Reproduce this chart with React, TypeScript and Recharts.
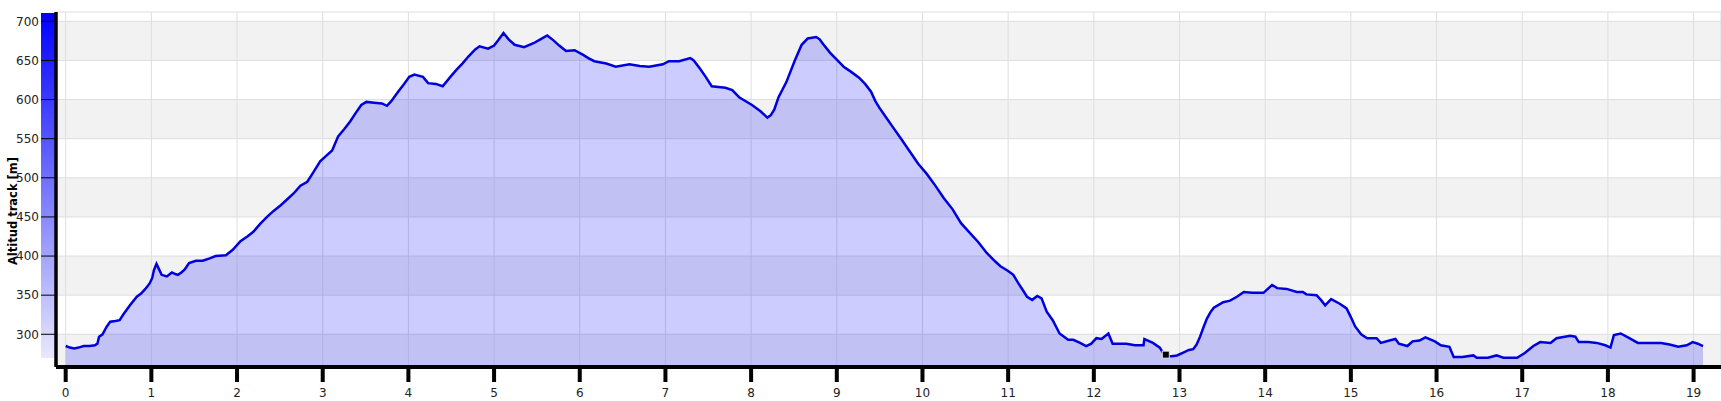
import React from 'react'
import { AreaChart, Area, XAxis, YAxis, CartesianGrid, ReferenceDot } from 'recharts'

// distance along the track (km) and altitude (m)
const distanceKm = [
  0.0, 0.05, 0.1, 0.15, 0.21, 0.28, 0.34, 0.37, 0.39, 0.43, 0.48, 0.52, 0.58, 0.63, 0.67, 0.75, 0.83, 0.88, 0.93, 0.98,
  1.01, 1.03, 1.06, 1.09, 1.12, 1.18, 1.24, 1.28, 1.31, 1.35, 1.39, 1.44, 1.52, 1.6, 1.68, 1.75, 1.87, 1.95,
  2.04, 2.12, 2.19, 2.27, 2.35, 2.43, 2.51, 2.58, 2.66, 2.74, 2.82, 2.89, 2.97,
  3.04, 3.11, 3.18, 3.25, 3.32, 3.38, 3.45, 3.51, 3.6, 3.69, 3.75, 3.8, 3.88, 3.95,
  4.01, 4.07, 4.17, 4.23, 4.32, 4.4, 4.49, 4.56, 4.63, 4.7, 4.78, 4.83, 4.93,
  5.0, 5.05, 5.11, 5.17, 5.24, 5.35, 5.46, 5.54, 5.62, 5.69, 5.76, 5.84, 5.94,
  6.04, 6.1, 6.17, 6.31, 6.42, 6.58, 6.7, 6.81, 6.97,
  7.04, 7.16, 7.29, 7.33, 7.4, 7.47, 7.54, 7.7, 7.78, 7.86,
  8.01, 8.11, 8.19, 8.23, 8.27, 8.32, 8.41, 8.51, 8.59, 8.66, 8.76, 8.8, 8.84, 8.92,
  9.0, 9.08, 9.16, 9.26, 9.33, 9.4, 9.45, 9.5, 9.57, 9.64, 9.75, 9.85, 9.95,
  10.05, 10.15, 10.25, 10.35, 10.45, 10.55, 10.65, 10.75, 10.85, 10.91,
  11.0, 11.06, 11.12, 11.18, 11.22, 11.28, 11.34, 11.39, 11.45, 11.52, 11.6, 11.7, 11.76, 11.84, 11.91, 11.97,
  12.03, 12.09, 12.17, 12.22, 12.3, 12.38, 12.48, 12.58, 12.59, 12.69, 12.77, 12.81, 12.86, 12.91, 12.97,
  13.05, 13.11, 13.16, 13.2, 13.24, 13.28, 13.32, 13.36, 13.4, 13.51, 13.59, 13.67, 13.75, 13.85, 13.98,
  14.04, 14.08, 14.14, 14.25, 14.37, 14.44, 14.48, 14.6, 14.65, 14.7, 14.77, 14.87, 14.95,
  15.0, 15.05, 15.12, 15.19, 15.3, 15.35, 15.45, 15.52, 15.56, 15.66, 15.72, 15.8, 15.87, 15.98,
  16.05, 16.15, 16.2, 16.3, 16.43, 16.47, 16.6, 16.7, 16.78, 16.94,
  17.03, 17.13, 17.21, 17.33, 17.4, 17.56, 17.62, 17.66, 17.77, 17.87, 17.97,
  18.03, 18.07, 18.15, 18.25, 18.35, 18.5, 18.62, 18.72, 18.82, 18.92, 18.99,
  19.05, 19.11,
]

const altitudeM = [
  285, 283, 282, 283, 285, 285, 286, 288, 297, 300, 310, 316, 317, 318, 325, 337, 348, 352, 358, 365,
  372, 382, 390, 383, 376, 374, 379, 377, 376, 379, 383, 391, 394, 394, 397, 400, 401, 408,
  419, 425, 431, 441, 450, 458, 465, 472, 480, 490, 495, 507, 521,
  528, 535, 553, 562, 572, 582, 593, 597, 596, 595, 592, 598, 610, 620,
  629, 632, 629, 621, 620, 617, 629, 638, 646, 655, 664, 668, 665,
  669, 676, 685, 677, 670, 667, 672, 677, 682, 676, 669, 662, 663,
  657, 653, 649, 646, 642, 645, 643, 642, 645,
  649, 649, 653, 650, 640, 629, 617, 615, 612, 603,
  593, 585, 577, 580, 587, 603, 622, 650, 670, 678, 680, 677, 671, 660,
  651, 642, 636, 628, 620, 610, 598, 589, 578, 567, 550, 534, 518,
  505, 490, 474, 460, 442, 430, 418, 404, 393, 387,
  381, 376, 365, 355, 348, 344, 349, 346, 329, 318, 301, 293, 293, 289, 285, 288,
  295, 294, 301, 288, 288, 288, 286, 286, 294, 289, 283, 276, 272, 272, 273,
  277, 280, 281, 287, 297, 309, 320, 328, 334, 341, 343, 348, 354, 353, 353,
  359, 363, 359, 358, 354, 354, 351, 350, 344, 337, 345, 339, 333,
  322, 310, 300, 295, 295, 289, 292, 294, 288, 285, 291, 292, 296, 291,
  286, 284, 271, 271, 273, 270, 270, 273, 270, 270,
  276, 285, 290, 289, 295, 298, 297, 290, 290, 289, 286,
  283, 299, 301, 295, 289, 289, 289, 287, 284, 286, 290,
  288, 285,
]

const xTicks = [0, 1, 2, 3, 4, 5, 6, 7, 8, 9, 10, 11, 12, 13, 14, 15, 16, 17, 18, 19]
const yTicks = [300, 350, 400, 450, 500, 550, 600, 650, 700]

// current position marker on the track
const markerKm = 12.84
const markerAlt = 274

const data = distanceKm.map((km, i) => ({ km, alt: altitudeM[i] }))

const MarkerSquare = (props: any) => (
  <rect x={props.cx - 3.5} y={props.cy - 3.5} width={7} height={7} fill="#000" stroke="#e4e4e4" strokeWidth={1} />
)

const AxisTitle = () => (
  <text
    x={17}
    y={211}
    transform="rotate(-90, 17, 211)"
    textAnchor="middle"
    fontSize={11.5}
    fontWeight="bold"
    fill="#000"
  >
    Altitud track [m]
  </text>
)

export default function App() {
  return (
    <div style={{ position: 'absolute', left: 0, top: 0, width: 1721, height: 401, background: '#fff' }}>
      <div
        style={{
          position: 'absolute',
          left: 41,
          top: 13,
          width: 14,
          height: 345,
          background: 'linear-gradient(to bottom, #0000ff, #e8e8fd)',
        }}
      />
      <AreaChart
        width={1721}
        height={401}
        data={data}
        margin={{ top: 12, right: 0, bottom: 0, left: 0 }}
        style={{ fontFamily: 'DejaVu Sans' }}
      >
        <CartesianGrid
          stroke="#dedede"
          horizontalFill={['#ffffff', '#f2f2f2']}
        />
        <XAxis
          dataKey="km"
          type="number"
          domain={[-0.113, 19.32]}
          ticks={xTicks}
          allowDataOverflow
          height={34}
          axisLine={{ stroke: '#000', strokeWidth: 4 }}
          tickLine={{ stroke: '#000', strokeWidth: 4 }}
          tickSize={15}
          tickMargin={6}
          tick={{ fontSize: 12, fill: '#222' }}
        />
        <YAxis
          type="number"
          domain={[258.2, 711.9]}
          ticks={yTicks}
          allowDataOverflow
          width={56}
          axisLine={{ stroke: '#000', strokeWidth: 3.5 }}
          tickLine={{ stroke: '#000', strokeWidth: 1 }}
          tickSize={15}
          tickMargin={2}
          tick={{ fontSize: 12, fill: '#222' }}
          label={{ content: AxisTitle }}
        />
        <Area
          type="linear"
          dataKey="alt"
          stroke="#0000dd"
          strokeWidth={2.5}
          fill="#0000ff"
          fillOpacity={0.2}
          isAnimationActive={false}
          dot={false}
          activeDot={false}
        />
        <ReferenceDot x={markerKm} y={markerAlt} shape={MarkerSquare} />
      </AreaChart>
    </div>
  )
}
